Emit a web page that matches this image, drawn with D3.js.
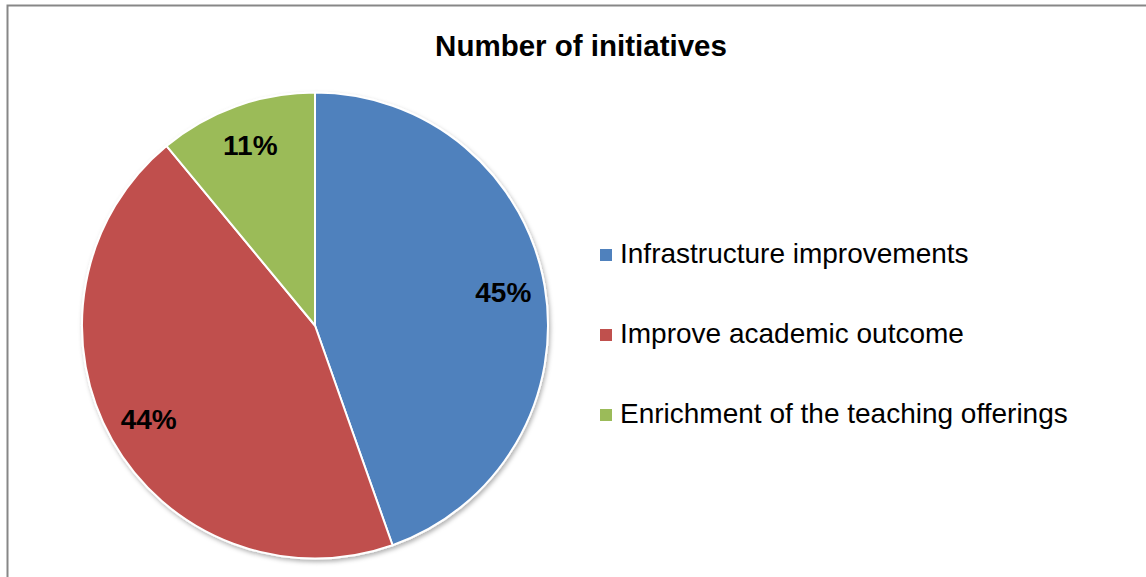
<!DOCTYPE html>
<html>
<head>
<meta charset="utf-8">
<script src="https://cdn.jsdelivr.net/npm/d3@7"></script>
<style>
  html, body { margin: 0; padding: 0; background: #fff; }
  svg { display: block; }
  text { font-family: "Liberation Sans", Arial, sans-serif; }
</style>
</head>
<body>
<svg id="chart" width="1146" height="577"></svg>
<script>
const title = "Number of initiatives";
const categories = ["Infrastructure improvements", "Improve academic outcome", "Enrichment of the teaching offerings"];
const values = [44.6, 44.4, 11.0];
const labels = ["45%", "44%", "11%"];
const colors = ["#4F81BD", "#C0504D", "#9BBB59"];

const svg = d3.select("#chart");
const W = 1146, H = 577;

svg.append("rect").attr("width", W).attr("height", H).attr("fill", "#fff");
svg.append("rect")
  .attr("x", 7.5).attr("y", 5.5).attr("width", W + 20).attr("height", H + 20)
  .attr("fill", "none").attr("stroke", "#878787").attr("stroke-width", 2);

const defs = svg.append("defs");
const f = defs.append("filter").attr("id", "shadow")
  .attr("x", "-10%").attr("y", "-10%").attr("width", "120%").attr("height", "120%");
f.append("feDropShadow").attr("dx", 1.5).attr("dy", 2.5).attr("stdDeviation", 2)
  .attr("flood-color", "#000").attr("flood-opacity", 0.3);

svg.append("text")
  .attr("x", 581).attr("y", 56)
  .attr("text-anchor", "middle")
  .attr("font-size", 29.5).attr("font-weight", "bold")
  .attr("fill", "#000")
  .text(title);

const cx = 315, cy = 325.5, R = 233;
const data = categories.map((c, i) => ({ name: c, value: values[i], label: labels[i], color: colors[i] }));
const pie = d3.pie().value(d => d.value).sort(null);
const arcs = pie(data);
const arc = d3.arc().innerRadius(0).outerRadius(R);
const labelArc = d3.arc().innerRadius(R * 0.82).outerRadius(R * 0.82);

const g = svg.append("g").attr("transform", `translate(${cx},${cy})`);
g.append("g").attr("filter", "url(#shadow)")
  .selectAll("path").data(arcs).join("path")
  .attr("d", arc)
  .attr("fill", d => d.data.color)
  .attr("stroke", "#fff").attr("stroke-width", 2).attr("stroke-linejoin", "round");

g.selectAll("text.lbl").data(arcs).join("text")
  .attr("class", "lbl")
  .attr("transform", d => `translate(${labelArc.centroid(d)})`)
  .attr("text-anchor", "middle")
  .attr("dy", "0.33em")
  .attr("font-size", 28).attr("font-weight", "bold")
  .attr("fill", "#000")
  .text(d => d.data.label);

const legendY = d3.scalePoint().domain(categories).range([255, 415]);
const lg = svg.append("g");
const items = lg.selectAll("g").data(data).join("g")
  .attr("transform", d => `translate(600,${legendY(d.name)})`);
items.append("rect")
  .attr("x", 0).attr("y", -6).attr("width", 12).attr("height", 12)
  .attr("fill", d => d.color);
items.append("text")
  .attr("x", 20).attr("y", 8)
  .attr("font-size", 28).attr("fill", "#000")
  .text(d => d.name);
</script>
</body>
</html>
